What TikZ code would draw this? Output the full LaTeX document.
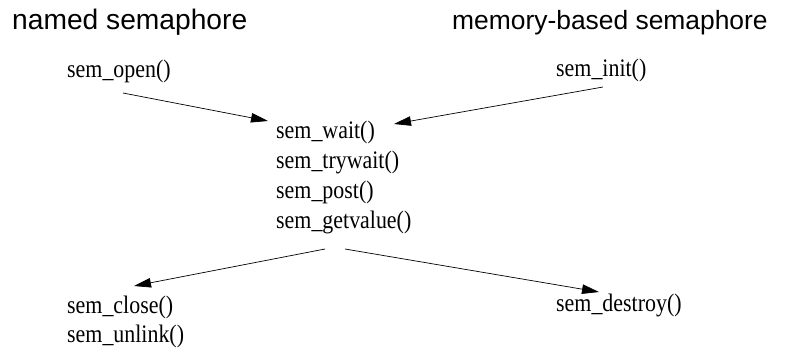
\documentclass[tikz,border=0pt]{standalone}
\usepackage{fontspec}
\usepackage{graphicx}
\setmainfont{Liberation Serif}
\newfontfamily\titlefont{Liberation Sans}
\usetikzlibrary{arrows.meta}

% function names are set in a slightly tall, narrow serif
\newcommand\fn[1]{\scalebox{1}[1.15]{#1}}

\begin{document}
\begin{tikzpicture}[x=1bp,y=-1bp,
  title/.style={anchor=base west,inner sep=0pt,font=\titlefont\fontsize{#1}{30}\selectfont},
  call/.style={anchor=base west,inner sep=0pt,font=\fontsize{22}{30}\selectfont},
  flow/.style={line width=0.7bp,-{Triangle[length=17bp,width=9.5bp]}}]
  \useasboundingbox (0,0) rectangle (797,348);

  % headings
  \node[title=28.3] (named) at (12,29) {named semaphore};
  \node[title=26.5] (membased) at (452,29) {memory-based semaphore};

  % creation calls
  \node[call] (open) at (67,77) {\fn{sem\_open()}};
  \node[call] (init) at (556,76) {\fn{sem\_init()}};

  % common operations
  \node[call] (wait) at (276,138) {\fn{sem\_wait()}};
  \node[call] (trywait) at (276,168) {\fn{sem\_trywait()}};
  \node[call] (post) at (276,198) {\fn{sem\_post()}};
  \node[call] (getvalue) at (276,228) {\fn{sem\_getvalue()}};

  % teardown calls
  \node[call] (close) at (67,313) {\fn{sem\_close()}};
  \node[call] (unlink) at (67,342) {\fn{sem\_unlink()}};
  \node[call] (destroy) at (556,311) {\fn{sem\_destroy()}};

  % arrow end points
  \coordinate (openout) at (123,93);
  \coordinate (waitinL) at (268,121);
  \coordinate (initout) at (603,87);
  \coordinate (waitinR) at (394,124);
  \coordinate (opsoutL) at (325,249);
  \coordinate (opsoutR) at (345,249);
  \coordinate (closein) at (134,286);
  \coordinate (destroyin) at (599,292);

  \draw[flow] (openout) -- (waitinL);
  \draw[flow] (initout) -- (waitinR);
  \draw[flow] (opsoutL) -- (closein);
  \draw[flow] (opsoutR) -- (destroyin);
\end{tikzpicture}
\end{document}
